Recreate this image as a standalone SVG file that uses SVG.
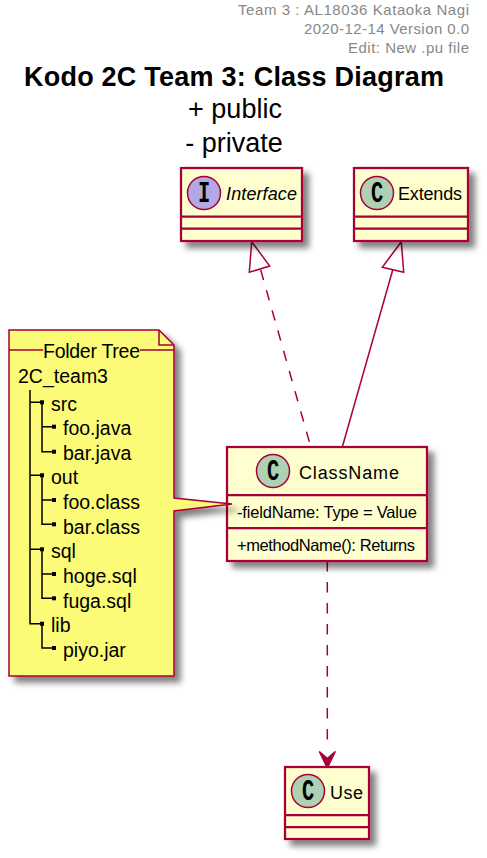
<svg xmlns="http://www.w3.org/2000/svg" width="487" height="858" viewBox="0 0 487 858">
<style>
text{font-family:"Liberation Sans",Arial,sans-serif;fill:#000}
.box{fill:#FEFECE;stroke:#A80036;stroke-width:2.25}
.sep{stroke:#A80036;stroke-width:2.25;fill:none}
.circ{stroke:#A80036;stroke-width:1.5}
.letter{font-family:"Liberation Mono",monospace;font-weight:bold;font-size:24px;text-anchor:middle}
.name{font-size:18px}
.member{font-size:16.5px}
.hdr{font-size:15px;fill:#888888;text-anchor:end}
.sub{font-size:27px;text-anchor:middle}
.note{font-size:19.5px}
.conn{stroke:#A80036;stroke-width:1.5;fill:none}
.dash{stroke-dasharray:10.5 10.5}
.hollow{fill:#fff;stroke:#A80036;stroke-width:1.5}
.tree{stroke:#000;stroke-width:1.5;fill:none}
.sq{fill:#000}
</style>
<defs>
<filter id="shadow" x="-15%" y="-15%" width="135%" height="135%">
<feGaussianBlur in="SourceAlpha" stdDeviation="3"/>
<feOffset dx="6" dy="6"/>
<feComponentTransfer><feFuncA type="linear" slope="0.5"/></feComponentTransfer>
<feMerge><feMergeNode/><feMergeNode in="SourceGraphic"/></feMerge>
</filter>
</defs>
<rect width="487" height="858" fill="#fff"/>
<g id="header">
<text class="hdr" x="469" y="15" textLength="231" lengthAdjust="spacing">Team 3 : AL18036 Kataoka Nagi</text>
<text class="hdr" x="469" y="34" textLength="165" lengthAdjust="spacing">2020-12-14 Version 0.0</text>
<text class="hdr" x="469" y="53" textLength="121" lengthAdjust="spacing">Edit: New .pu file</text>
</g>
<g id="title">
<text x="24" y="86" font-size="27" font-weight="bold" textLength="420" lengthAdjust="spacing">Kodo 2C Team 3: Class Diagram</text>
<text class="sub" x="235" y="118">+ public</text>
<text class="sub" x="234" y="152">- private</text>
</g>
<g id="connectors">
<path class="conn dash" d="M309.3,441.7L260.7,270"/>
<path class="hollow" d="M251.7,241.7L249.3,272.3L269.7,266Z"/>
<path class="conn" d="M342.3,447L392.7,270"/>
<path class="hollow" d="M401.3,241.7L382.3,267.3L403.7,272.3Z"/>
<path class="conn dash" d="M327.3,561V745"/>
<path d="M327.3,768L319.3,751.5L327.3,758.5L335.3,751.5Z" fill="#A80036" stroke="#A80036" stroke-width="1.5"/>
</g>
<g id="node-interface">
<rect class="box" x="181" y="168" width="121" height="73" filter="url(#shadow)"/>
<ellipse class="circ" cx="204" cy="193" rx="16.5" ry="16.5" fill="#B4A7E5"/>
<text class="letter" transform="translate(204,202) scale(0.85,1.2)">I</text>
<path class="sep" d="M181,216.7H302M181,228.7H302"/>
<text class="name" x="226" y="199.500" font-style="italic" textLength="71" lengthAdjust="spacing">Interface</text>
</g>
<g id="node-extends">
<rect class="box" x="354" y="168" width="114" height="73" filter="url(#shadow)"/>
<ellipse class="circ" cx="377" cy="193" rx="16.5" ry="16.5" fill="#ADD1B2"/>
<text class="letter" transform="translate(377,202) scale(0.85,1.2)">C</text>
<path class="sep" d="M354,216.7H468M354,228.7H468"/>
<text class="name" x="398" y="200" textLength="64" lengthAdjust="spacing">Extends</text>
</g>
<g id="node-classname">
<rect class="box" x="227" y="447" width="200" height="114" filter="url(#shadow)"/>
<ellipse class="circ" cx="273" cy="471" rx="16.5" ry="16.5" fill="#ADD1B2"/>
<text class="letter" transform="translate(273,480) scale(0.85,1.2)">C</text>
<path class="sep" d="M227,495H427M227,528H427"/>
<text class="name" x="299" y="479" textLength="100" lengthAdjust="spacing">ClassName</text>
<text class="member" x="237" y="517.500" textLength="180" lengthAdjust="spacing">-fieldName: Type = Value</text>
<text class="member" x="237" y="550.500" textLength="178" lengthAdjust="spacing">+methodName(): Returns</text>
</g>
<g id="node-use">
<rect class="box" x="285" y="767" width="84" height="72" filter="url(#shadow)"/>
<ellipse class="circ" cx="308" cy="791" rx="16.5" ry="16.5" fill="#ADD1B2"/>
<text class="letter" transform="translate(308,800) scale(0.85,1.2)">C</text>
<path class="sep" d="M285,815H369M285,827H369"/>
<text class="name" x="330" y="799" textLength="33" lengthAdjust="spacing">Use</text>
</g>
<g id="node-note">
<path d="M9,330H159L174,345V498L232,504L174,511V676H9Z" fill="#FBFB77" stroke="#A80036" stroke-width="1.5" filter="url(#shadow)"/>
<path d="M159,330V345H174" fill="none" stroke="#A80036" stroke-width="1.5"/>
<path d="M9,350H43M140,350H174" fill="none" stroke="#A80036" stroke-width="1.5"/>
<text class="note" x="43" y="358" textLength="97" lengthAdjust="spacing">Folder Tree</text>
<text class="note" x="18" y="383">2C_team3</text>
<path class="tree" d="M30,390V623.700H42"/>
<path class="tree" d="M30,402.300H42V451.700H54M42,426.700H54"/>
<path class="tree" d="M30,475.300H42V524.300H54M42,500H54"/>
<path class="tree" d="M30,549.300H42V598.300H54M42,574H54"/>
<path class="tree" d="M42,623.700V648H54"/>
<g class="sq">
<rect x="40" y="400.300" width="4" height="4"/><rect x="52" y="424.700" width="4" height="4"/><rect x="52" y="449.700" width="4" height="4"/>
<rect x="40" y="473.300" width="4" height="4"/><rect x="52" y="498" width="4" height="4"/><rect x="52" y="522.300" width="4" height="4"/>
<rect x="40" y="547.300" width="4" height="4"/><rect x="52" y="572" width="4" height="4"/><rect x="52" y="596.300" width="4" height="4"/>
<rect x="40" y="621.700" width="4" height="4"/><rect x="52" y="646" width="4" height="4"/>
</g>
<text class="note" x="51" y="411">src</text>
<text class="note" x="63" y="435">foo.java</text>
<text class="note" x="63" y="460">bar.java</text>
<text class="note" x="51" y="484">out</text>
<text class="note" x="63" y="509">foo.class</text>
<text class="note" x="63" y="534">bar.class</text>
<text class="note" x="51" y="558">sql</text>
<text class="note" x="63" y="583">hoge.sql</text>
<text class="note" x="63" y="608">fuga.sql</text>
<text class="note" x="51" y="632">lib</text>
<text class="note" x="63" y="657">piyo.jar</text>
</g>
</svg>
